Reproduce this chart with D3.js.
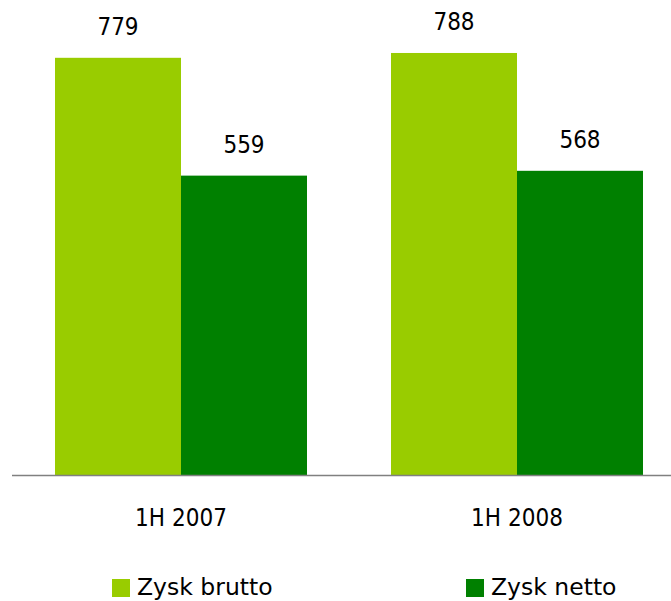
<!DOCTYPE html>
<html>
<head>
<meta charset="utf-8">
<script src="https://cdn.jsdelivr.net/npm/d3@7"></script>
<style>
  html, body { margin: 0; padding: 0; background: #ffffff; }
  svg { display: block; }
  text { font-family: "DejaVu Sans Condensed", "DejaVu Sans", sans-serif; font-stretch: condensed; fill: #000; }
  g.leg text { font-family: "DejaVu Sans", sans-serif; font-stretch: normal; }
</style>
</head>
<body>
<div id="chart"></div>
<script>
const categories = ["1H 2007", "1H 2008"];
const seriesNames = ["Zysk brutto", "Zysk netto"];
const brutto = [779, 788];
const netto = [559, 568];
const colors = ["#99CC00", "#008000"];

const W = 671, H = 601;
const baseY = 475;

const svg = d3.select("#chart").append("svg").attr("width", W).attr("height", H);

const x0 = d3.scaleBand().domain(categories).range([13, 685]).paddingInner(0.25).paddingOuter(0.125);
const x1 = d3.scaleBand().domain(seriesNames).range([0, x0.bandwidth()]);
const y = d3.scaleLinear().domain([0, 900]).range([baseY, -7]);
const color = d3.scaleOrdinal().domain(seriesNames).range(colors);

const data = categories.map((c, i) => ({
  cat: c,
  values: [
    { name: seriesNames[0], value: brutto[i] },
    { name: seriesNames[1], value: netto[i] }
  ]
}));

const groups = svg.selectAll("g.grp").data(data).enter().append("g")
  .attr("class", "grp")
  .attr("transform", d => `translate(${x0(d.cat)},0)`);

groups.selectAll("rect").data(d => d.values).enter().append("rect")
  .attr("x", d => x1(d.name))
  .attr("y", d => y(d.value))
  .attr("width", x1.bandwidth())
  .attr("height", d => baseY - y(d.value))
  .attr("fill", d => color(d.name));

groups.selectAll("text.val").data(d => d.values).enter().append("text")
  .attr("class", "val")
  .attr("x", d => x1(d.name) + x1.bandwidth() / 2)
  .attr("y", d => y(d.value) - 23)
  .attr("text-anchor", "middle")
  .attr("font-size", 24)
  .text(d => d.value);

// axis
const xAxis = d3.axisBottom(x0).tickSize(0).tickPadding(0);
const ax = svg.append("g").attr("transform", `translate(0,${baseY})`).call(xAxis);
ax.select(".domain").attr("d", `M12,0.5H${W}`).attr("stroke", "#808080").attr("stroke-width", 1.5);
ax.selectAll(".tick text")
  .attr("y", 51)
  .attr("dy", 0)
  .attr("font-size", 24)
  .style("font-family", "'DejaVu Sans Condensed', 'DejaVu Sans', sans-serif")
  .attr("fill", "#000");

// legend
const legendX = [112, 466];
const leg = svg.selectAll("g.leg").data(seriesNames).enter().append("g")
  .attr("class", "leg")
  .attr("transform", (d, i) => `translate(${legendX[i]},579)`);
leg.append("rect").attr("width", 18).attr("height", 18).attr("fill", d => color(d));
leg.append("text").attr("x", 25).attr("y", 16).attr("font-size", 23.5).text(d => d);
</script>
</body>
</html>
